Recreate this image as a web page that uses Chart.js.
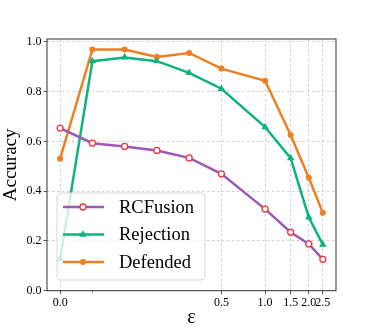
<!DOCTYPE html>
<html>
<head>
<meta charset="utf-8">
<script src="https://cdn.jsdelivr.net/npm/chart.js@4.4.0/dist/chart.umd.min.js"></script>
<style>
  html, body { margin: 0; padding: 0; background: #fff; }
  #wrap { width: 374px; height: 327px; }
</style>
</head>
<body>
<div id="wrap"><canvas id="accChart" width="374" height="327"></canvas></div>
<script>
// epsilon values and accuracies
const epsilons = [0.0, 0.1, 0.2, 0.3, 0.4, 0.5, 1.0, 1.5, 2.0, 2.5];
const rcfusion = [0.654, 0.593, 0.580, 0.564, 0.534, 0.470, 0.328, 0.235, 0.188, 0.126];
const rejection = [0.128, 0.923, 0.938, 0.923, 0.876, 0.812, 0.658, 0.533, 0.295, 0.185];
const defended = [0.531, 0.970, 0.970, 0.940, 0.956, 0.893, 0.844, 0.626, 0.454, 0.313];
const xTicks = [0.0, 0.5, 1.0, 1.5, 2.0, 2.5];
const yTicks = [0.0, 0.2, 0.4, 0.6, 0.8, 1.0];

const serif = '"Liberation Serif", "Times New Roman", serif';

// symlog axis (linear below 0.5, log10 above), like matplotlib's symlog
const LIN_THRESH = 0.5;
const LIN_ADJ = 1 / (1 - 1 / 10);
function symT(v) {
    const a = Math.abs(v);
    if (a <= LIN_THRESH) return v * LIN_ADJ;
    return Math.sign(v) * LIN_THRESH * (LIN_ADJ + Math.log10(a / LIN_THRESH));
}
function symInv(t) {
    const a = Math.abs(t);
    if (a <= LIN_THRESH * LIN_ADJ) return t / LIN_ADJ;
    return Math.sign(t) * LIN_THRESH * Math.pow(10, a / LIN_THRESH - LIN_ADJ);
}

class SymlogScale extends Chart.LinearScale {
    static id = 'symlog';
    static defaults = {};
    buildTicks() {
        return xTicks.map(v => ({ value: v }));
    }
    getPixelForValue(value) {
        const a = symT(this.min), b = symT(this.max);
        return this.getPixelForDecimal((symT(value) - a) / (b - a));
    }
    getValueForPixel(pixel) {
        const a = symT(this.min), b = symT(this.max);
        return symInv(a + this.getDecimalForPixel(pixel) * (b - a));
    }
}
Chart.register(SymlogScale);

// 5% margin in transformed space
const tLo = symT(0), tHi = symT(2.5), tPad = (tHi - tLo) * 0.05;
const xMin = symInv(tLo - tPad), xMax = symInv(tHi + tPad);

function points(vals) {
    return vals.map((v, i) => ({ x: epsilons[i], y: v }));
}

const series = [
    { label: 'RCFusion', data: rcfusion, color: '#9b59b6', style: 'circle', radius: 3, fill: '#ffffff', edge: '#f2333c' },
    { label: 'Rejection', data: rejection, color: '#0db37a', style: 'triangle', radius: 3, fill: '#0db37a', edge: '#0db37a' },
    { label: 'Defended', data: defended, color: '#ee8023', style: 'circle', radius: 2.4, fill: '#ee8023', edge: '#ee8023' }
];

const framePlugin = {
    id: 'frameAndLegend',
    afterDraw(chart) {
        const ctx = chart.ctx;
        const a = chart.chartArea;
        ctx.save();
        // spines
        ctx.strokeStyle = '#333';
        ctx.lineWidth = 1;
        ctx.strokeRect(a.left, a.top, a.right - a.left, a.bottom - a.top);

        // minor tick at 0.1
        const xs = chart.scales.x;
        const mx = Math.round(xs.getPixelForValue(0.1)) + 0.5;
        ctx.lineWidth = 0.6;
        ctx.beginPath();
        ctx.moveTo(mx, a.bottom);
        ctx.lineTo(mx, a.bottom + 2);
        ctx.stroke();

        // legend box
        const lx = a.left + 10, ly = a.top + 154, lw = 148, lh = 87, r = 4;
        ctx.beginPath();
        ctx.moveTo(lx + r, ly);
        ctx.arcTo(lx + lw, ly, lx + lw, ly + lh, r);
        ctx.arcTo(lx + lw, ly + lh, lx, ly + lh, r);
        ctx.arcTo(lx, ly + lh, lx, ly, r);
        ctx.arcTo(lx, ly, lx + lw, ly, r);
        ctx.closePath();
        ctx.fillStyle = 'rgba(255,255,255,0.8)';
        ctx.fill();
        ctx.strokeStyle = '#d6d6d6';
        ctx.lineWidth = 1;
        ctx.stroke();

        series.forEach((s, i) => {
            const y = ly + 14 + i * 27.5;
            ctx.strokeStyle = s.color;
            ctx.lineWidth = 2.5;
            ctx.beginPath();
            ctx.moveTo(lx + 6, y);
            ctx.lineTo(lx + 47, y);
            ctx.stroke();
            ctx.fillStyle = s.fill;
            ctx.strokeStyle = s.edge;
            ctx.lineWidth = 1.3;
            Chart.helpers.drawPoint(ctx, { pointStyle: s.style, rotation: 0, radius: s.radius, borderWidth: 1.3 }, lx + 26, y);
            ctx.fillStyle = '#000';
            ctx.font = '18.5px ' + serif;
            ctx.textBaseline = 'middle';
            ctx.fillText(s.label, lx + 62, y + 1);
        });
        ctx.restore();
    }
};

const ctx = document.getElementById('accChart').getContext('2d');
new Chart(ctx, {
    type: 'line',
    data: {
        datasets: series.map(s => ({
            label: s.label,
            data: points(s.data),
            borderColor: s.color,
            borderWidth: 2.5,
            pointStyle: s.style,
            pointRadius: s.radius,
            pointBackgroundColor: s.fill,
            pointBorderColor: s.edge,
            pointBorderWidth: 1.3,
            tension: 0
        }))
    },
    options: {
        responsive: false,
        animation: false,
        events: [],
        layout: { padding: { top: 39, right: 38, left: 0, bottom: 0 } },
        plugins: { legend: { display: false }, tooltip: { enabled: false } },
        scales: {
            x: {
                type: 'symlog',
                min: xMin,
                max: xMax,
                afterFit(scale) { scale.height = 36.3; },
                grid: { color: '#c4c4c4', lineWidth: 0.8, tickLength: 3.5, tickColor: '#333', tickWidth: 0.8 },
                border: { display: false, dash: [2.5, 2.5] },
                ticks: {
                    padding: 1,
                    maxRotation: 0,
                    autoSkip: false,
                    color: '#000',
                    font: { family: serif, size: 12 },
                    callback: v => Number(v).toFixed(1)
                },
                title: { display: true, text: 'ε', color: '#000', font: { family: serif, size: 20 }, padding: { top: 0, bottom: -3 } }
            },
            y: {
                min: 0,
                max: 1.012,
                afterBuildTicks(scale) { scale.ticks = yTicks.map(v => ({ value: v })); },
                afterFit(scale) { scale.width = 47; },
                grid: { color: '#c4c4c4', lineWidth: 0.8, tickLength: 3.5, tickColor: '#333', tickWidth: 0.8 },
                border: { display: false, dash: [2.5, 2.5] },
                ticks: {
                    padding: 2,
                    color: '#000',
                    font: { family: serif, size: 12 },
                    callback: v => Number(v).toFixed(1)
                },
                title: { display: true, text: 'Accuracy', color: '#000', font: { family: serif, size: 19 }, padding: { top: 0, bottom: 4 } }
            }
        }
    },
    plugins: [framePlugin]
});
</script>
</body>
</html>
